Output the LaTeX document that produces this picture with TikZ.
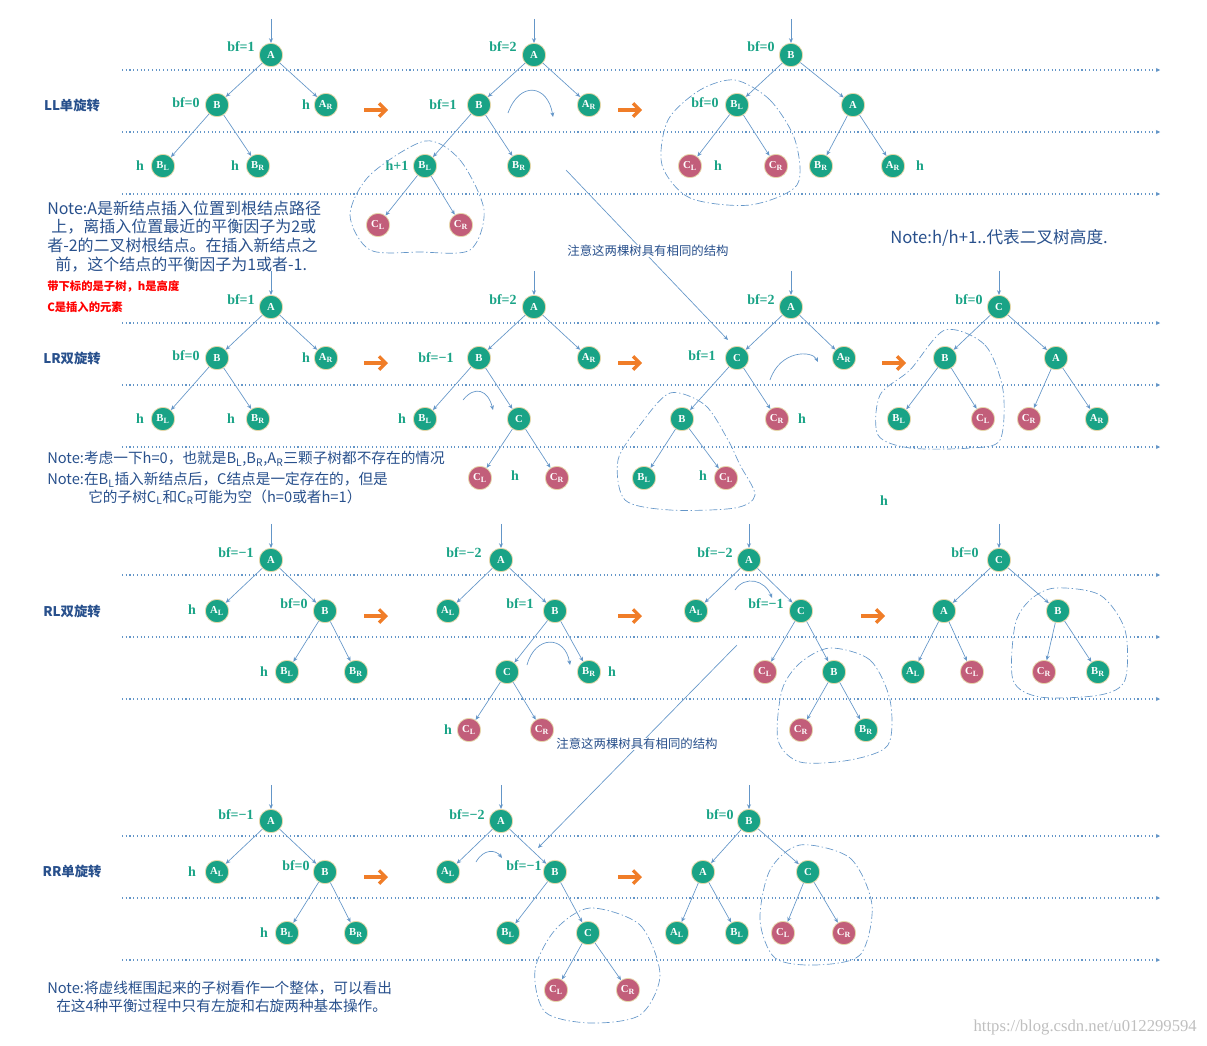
\documentclass[tikz,border=0pt]{standalone}
\usepackage{fontspec}
\setmainfont{Liberation Serif}
\newfontfamily\cjk{Noto Sans CJK SC}
\usetikzlibrary{arrows.meta}
\definecolor{tg}{RGB}{25,163,134}
\definecolor{tp}{RGB}{194,94,122}
\definecolor{ln}{RGB}{100,150,200}
\definecolor{nb}{RGB}{40,80,140}
\definecolor{og}{RGB}{240,125,40}
\tikzset{
 tn/.style={circle,fill=tg,draw={rgb,255:red,230;green,215;blue,170},line width=0.6pt,minimum size=17.5pt,inner sep=0pt,text=white,font=\bfseries\fontsize{8}{8}\selectfont},
 pk/.style={tn,fill=tp},
 ed/.style={ln,line width=0.5pt,-{Stealth[length=3.5pt,width=3pt]}},
 lb/.style={text=tg,font=\bfseries\fontsize{10.5}{10.5}\selectfont,inner sep=0pt},
 row/.style={ln,line width=0.8pt,dotted,-{Stealth[length=3pt,width=3pt]}},
 lp/.style={ln,line width=0.5pt,dash pattern=on 6pt off 2pt on 1pt off 2pt},
 oa/.style={og,line width=2.5pt,-{Straight Barb[length=5pt,width=10pt]}},
 sec/.style={text=nb,font=\bfseries\cjk\fontsize{10}{10}\selectfont},
 nt/.style={text=nb,font=\cjk\fontsize{11}{12}\selectfont,anchor=west,inner sep=0pt},
 ntb/.style={nt,font=\cjk\fontsize{12}{12}\selectfont},
 rd/.style={text=red,font=\bfseries\cjk\fontsize{8.5}{8.5}\selectfont,anchor=west,inner sep=0pt},
 sm/.style={text=nb,font=\cjk\fontsize{9.3}{9.3}\selectfont,inner sep=0pt},
}
\newcommand\TN[5]{\node[#1] (#2) at (#3,#4) {#5};}
\newcommand\E[2]{\draw[ed] (#1) -- (#2);}
\newcommand\ROOT[1]{\coordinate (#1top) at ([yshift=18pt]#1.north); \draw[ed] (#1top) -- (#1);}
\newcommand\SL{\textsubscript{L}}
\newcommand\SR{\textsubscript{R}}
\begin{document}
\begin{tikzpicture}[x=0.75pt,y=-0.75pt]
\useasboundingbox (0,0) rectangle (1207,1046);
% rows
\foreach \y in {70,132,194,323,385,447,575,637,699,836,898,960}{
 \coordinate (rs\y) at (122,\y); \coordinate (re\y) at (1160,\y);
 \draw[row] (rs\y) -- (re\y);}
% section labels
\node[sec] (L1) at (72,105) {LL单旋转};
\node[sec] (L2) at (72,358) {LR双旋转};
\node[sec] (L3) at (72,611) {RL双旋转};
\node[sec] (L4) at (72,871) {RR单旋转};
% orange arrows
\foreach \x/\y [count=\i] in {375/110,629/110,375/363,629/363,893/363,375/616,629/616,872/616,375/877,629/877}{
 \coordinate (oa\i s) at (\x-11,\y); \coordinate (oa\i e) at (\x+13,\y);
 \draw[oa] (oa\i s) -- (oa\i e);}
% ===== Section 1
\TN{tn}{a1A}{271}{55}{A}\TN{tn}{a1B}{217}{105}{B}\TN{tn}{a1AR}{326}{105}{A\SR}
\TN{tn}{a1BL}{163}{166}{B\SL}\TN{tn}{a1BR}{258}{166}{B\SR}
\E{a1A}{a1B}\E{a1A}{a1AR}\E{a1B}{a1BL}\E{a1B}{a1BR}\ROOT{a1A}
\node[lb] at (241,47) {bf=1};\node[lb] at (186,103) {bf=0};\node[lb] at (306,105) {h};
\node[lb] at (140,166) {h};\node[lb] at (235,166) {h};
\TN{tn}{a2A}{534}{55}{A}\TN{tn}{a2B}{479}{105}{B}\TN{tn}{a2AR}{589}{105}{A\SR}
\TN{tn}{a2BL}{425}{166}{B\SL}\TN{tn}{a2BR}{519}{166}{B\SR}
\TN{pk}{a2CL}{378}{225}{C\SL}\TN{pk}{a2CR}{461}{225}{C\SR}
\E{a2A}{a2B}\E{a2A}{a2AR}\E{a2B}{a2BL}\E{a2B}{a2BR}\E{a2BL}{a2CL}\E{a2BL}{a2CR}\ROOT{a2A}
\node[lb] at (503,47) {bf=2};\node[lb] at (443,105) {bf=1};\node[lb] at (397,166) {h+1};
\draw[lp] plot[smooth cycle] coordinates {(425,141)(460,160)(484,210)(470,250)(420,252)(370,250)(350,215)(370,175)};
\draw[ed] (508,113) .. controls (520,80) and (548,85) .. (553,117);
\TN{tn}{a3B}{791}{55}{B}\TN{tn}{a3BL}{737}{105}{B\SL}\TN{tn}{a3A}{853}{105}{A}
\TN{pk}{a3CL}{690}{166}{C\SL}\TN{pk}{a3CR}{776}{166}{C\SR}\TN{tn}{a3BR}{821}{166}{B\SR}\TN{tn}{a3AR}{893}{166}{A\SR}
\E{a3B}{a3BL}\E{a3B}{a3A}\E{a3BL}{a3CL}\E{a3BL}{a3CR}\E{a3A}{a3BR}\E{a3A}{a3AR}\ROOT{a3B}
\node[lb] at (761,47) {bf=0};\node[lb] at (705,103) {bf=0};\node[lb] at (718,166) {h};\node[lb] at (920,166) {h};
\draw[lp] plot[smooth cycle] coordinates {(735,80)(770,100)(795,140)(797,185)(750,205)(690,198)(662,165)(668,120)(700,90)};
% notes
\node[ntb] (n1) at (47,208) {Note:A是新结点插入位置到根结点路径};
\node[ntb] (n2) at (51,227) {上，离插入位置最近的平衡因子为2或};
\node[ntb] (n3) at (47,245) {者-2的二叉树根结点。在插入新结点之};
\node[ntb] (n4) at (55,265) {前，这个结点的平衡因子为1或者-1.};
\node[rd] (r1) at (47,286) {带下标的是子树，h是高度};
\node[rd] (r2) at (47,307) {C是插入的元素};
\node[nt,font=\cjk\fontsize{12.5}{12.5}\selectfont] (n5) at (890,238) {Note:h/h+1..代表二叉树高度.};
\coordinate (x1s) at (566,170); \coordinate (x1e) at (728,340);
\draw[ed] (x1s) -- (x1e);
\node[sm,fill=white] (t1) at (648,251) {注意这两棵树具有相同的结构};
% ===== Section 2
\TN{tn}{b1A}{271}{307}{A}\TN{tn}{b1B}{217}{358}{B}\TN{tn}{b1AR}{326}{358}{A\SR}
\TN{tn}{b1BL}{163}{419}{B\SL}\TN{tn}{b1BR}{258}{419}{B\SR}
\E{b1A}{b1B}\E{b1A}{b1AR}\E{b1B}{b1BL}\E{b1B}{b1BR}\ROOT{b1A}
\node[lb] at (241,300) {bf=1};\node[lb] at (186,356) {bf=0};\node[lb] at (306,358) {h};
\node[lb] at (140,419) {h};\node[lb] at (231,419) {h};
\TN{tn}{b2A}{534}{307}{A}\TN{tn}{b2B}{479}{358}{B}\TN{tn}{b2AR}{589}{358}{A\SR}
\TN{tn}{b2BL}{425}{419}{B\SL}\TN{tn}{b2C}{519}{419}{C}
\TN{pk}{b2CL}{480}{478}{C\SL}\TN{pk}{b2CR}{557}{478}{C\SR}
\E{b2A}{b2B}\E{b2A}{b2AR}\E{b2B}{b2BL}\E{b2B}{b2C}\E{b2C}{b2CL}\E{b2C}{b2CR}\ROOT{b2A}
\node[lb] at (503,300) {bf=2};\node[lb] at (436,358) {bf=−1};\node[lb] at (402,419) {h};\node[lb] at (515,476) {h};
\draw[ed] (463,400) .. controls (475,385) and (488,390) .. (493,410);
\TN{tn}{b3A}{791}{307}{A}\TN{tn}{b3C}{737}{358}{C}\TN{tn}{b3AR}{844}{358}{A\SR}
\TN{tn}{b3B}{682}{419}{B}\TN{pk}{b3CR}{777}{419}{C\SR}
\TN{tn}{b3BL}{644}{478}{B\SL}\TN{pk}{b3CL}{726}{478}{C\SL}
\E{b3A}{b3C}\E{b3A}{b3AR}\E{b3C}{b3B}\E{b3C}{b3CR}\E{b3B}{b3BL}\E{b3B}{b3CL}\ROOT{b3A}
\node[lb] at (761,300) {bf=2};\node[lb] at (702,356) {bf=1};\node[lb] at (802,419) {h};\node[lb] at (703,476) {h};
\draw[ed] (770,380) .. controls (780,350) and (812,350) .. (818,362);
\draw[lp] plot[smooth cycle] coordinates {(670,393)(705,405)(728,440)(740,465)(755,495)(735,508)(670,510)(625,500)(618,460)(640,425)};
\TN{tn}{b4C}{999}{307}{C}\TN{tn}{b4B}{945}{358}{B}\TN{tn}{b4A}{1056}{358}{A}
\TN{tn}{b4BL}{899}{419}{B\SL}\TN{pk}{b4CL}{983}{419}{C\SL}\TN{pk}{b4CR}{1029}{419}{C\SR}\TN{tn}{b4AR}{1097}{419}{A\SR}
\E{b4C}{b4B}\E{b4C}{b4A}\E{b4B}{b4BL}\E{b4B}{b4CL}\E{b4A}{b4CR}\E{b4A}{b4AR}\ROOT{b4C}
\node[lb] at (969,300) {bf=0};\node[lb] at (884,501) {h};
\draw[lp] plot[smooth cycle] coordinates {(945,330)(985,345)(1003,390)(1000,440)(970,448)(910,448)(878,435)(880,395)(910,370)};
\node[nt] (n6) at (47,459) {Note:考虑一下h=0，也就是B\SL{},B\SR{},A\SR{}三颗子树都不存在的情况};
\node[nt] (n7) at (47,480) {Note:在B\SL{}插入新结点后，C结点是一定存在的，但是};
\node[nt] (n8) at (88,497) {它的子树C\SL{}和C\SR{}可能为空（h=0或者h=1）};
% ===== Section 3
\TN{tn}{c1A}{271}{560}{A}\TN{tn}{c1AL}{217}{611}{A\SL}\TN{tn}{c1B}{325}{611}{B}
\TN{tn}{c1BL}{287}{672}{B\SL}\TN{tn}{c1BR}{356}{672}{B\SR}
\E{c1A}{c1AL}\E{c1A}{c1B}\E{c1B}{c1BL}\E{c1B}{c1BR}\ROOT{c1A}
\node[lb] at (236,553) {bf=−1};\node[lb] at (192,610) {h};\node[lb] at (294,604) {bf=0};\node[lb] at (264,672) {h};
\TN{tn}{c2A}{501}{560}{A}\TN{tn}{c2AL}{448}{611}{A\SL}\TN{tn}{c2B}{555}{611}{B}
\TN{tn}{c2C}{507}{672}{C}\TN{tn}{c2BR}{589}{672}{B\SR}
\TN{pk}{c2CL}{469}{730}{C\SL}\TN{pk}{c2CR}{542}{730}{C\SR}
\E{c2A}{c2AL}\E{c2A}{c2B}\E{c2B}{c2C}\E{c2B}{c2BR}\E{c2C}{c2CL}\E{c2C}{c2CR}\ROOT{c2A}
\node[lb] at (464,553) {bf=−2};\node[lb] at (520,604) {bf=1};\node[lb] at (612,672) {h};\node[lb] at (448,730) {h};
\draw[ed] (527,665) .. controls (535,635) and (565,635) .. (570,665);
\TN{tn}{c3A}{749}{560}{A}\TN{tn}{c3AL}{696}{611}{A\SL}\TN{tn}{c3C}{801}{611}{C}
\TN{pk}{c3CL}{765}{672}{C\SL}\TN{tn}{c3B}{834}{672}{B}
\TN{pk}{c3CR}{801}{730}{C\SR}\TN{tn}{c3BR}{866}{730}{B\SR}
\E{c3A}{c3AL}\E{c3A}{c3C}\E{c3C}{c3CL}\E{c3C}{c3B}\E{c3B}{c3CR}\E{c3B}{c3BR}\ROOT{c3A}
\node[lb] at (715,553) {bf=−2};\node[lb] at (766,604) {bf=−1};
\draw[ed] (735,590) .. controls (745,575) and (765,580) .. (772,598);
\draw[lp] plot[smooth cycle] coordinates {(830,648)(870,660)(890,700)(888,745)(850,760)(800,762)(778,740)(782,690)(800,663)};
\TN{tn}{c4C}{999}{560}{C}\TN{tn}{c4A}{944}{611}{A}\TN{tn}{c4B}{1058}{611}{B}
\TN{tn}{c4AL}{913}{672}{A\SL}\TN{pk}{c4CL}{972}{672}{C\SL}\TN{pk}{c4CR}{1044}{672}{C\SR}\TN{tn}{c4BR}{1098}{672}{B\SR}
\E{c4C}{c4A}\E{c4C}{c4B}\E{c4A}{c4AL}\E{c4A}{c4CL}\E{c4B}{c4CR}\E{c4B}{c4BR}\ROOT{c4C}
\node[lb] at (965,553) {bf=0};
\draw[lp] plot[smooth cycle] coordinates {(1055,588)(1100,595)(1125,630)(1125,680)(1100,695)(1040,697)(1013,680)(1015,625)(1030,600)};
\coordinate (x2s) at (737,645); \coordinate (x2e) at (538,848);
\draw[ed] (x2s) -- (x2e);
\node[sm,fill=white] (t2) at (637,744) {注意这两棵树具有相同的结构};
% ===== Section 4
\TN{tn}{d1A}{271}{821}{A}\TN{tn}{d1AL}{217}{872}{A\SL}\TN{tn}{d1B}{325}{872}{B}
\TN{tn}{d1BL}{287}{933}{B\SL}\TN{tn}{d1BR}{356}{933}{B\SR}
\E{d1A}{d1AL}\E{d1A}{d1B}\E{d1B}{d1BL}\E{d1B}{d1BR}\ROOT{d1A}
\node[lb] at (236,815) {bf=−1};\node[lb] at (192,872) {h};\node[lb] at (296,866) {bf=0};\node[lb] at (264,933) {h};
\TN{tn}{d2A}{501}{821}{A}\TN{tn}{d2AL}{448}{872}{A\SL}\TN{tn}{d2B}{555}{872}{B}
\TN{tn}{d2BL}{508}{933}{B\SL}\TN{tn}{d2C}{588}{933}{C}
\TN{pk}{d2CL}{556}{990}{C\SL}\TN{pk}{d2CR}{628}{990}{C\SR}
\E{d2A}{d2AL}\E{d2A}{d2B}\E{d2B}{d2BL}\E{d2B}{d2C}\E{d2C}{d2CL}\E{d2C}{d2CR}\ROOT{d2A}
\node[lb] at (467,815) {bf=−2};\node[lb] at (524,866) {bf=−1};
\draw[ed] (476,862) .. controls (484,848) and (496,850) .. (502,858);
\draw[lp] plot[smooth cycle] coordinates {(590,908)(640,925)(660,975)(640,1015)(590,1023)(545,1012)(535,970)(555,930)};
\TN{tn}{d3B}{749}{821}{B}\TN{tn}{d3A}{703}{872}{A}\TN{tn}{d3C}{808}{872}{C}
\TN{tn}{d3AL}{677}{933}{A\SL}\TN{tn}{d3BL}{737}{933}{B\SL}\TN{pk}{d3CL}{783}{933}{C\SL}\TN{pk}{d3CR}{844}{933}{C\SR}
\E{d3B}{d3A}\E{d3B}{d3C}\E{d3A}{d3AL}\E{d3A}{d3BL}\E{d3C}{d3CL}\E{d3C}{d3CR}\ROOT{d3B}
\node[lb] at (720,815) {bf=0};
\draw[lp] plot[smooth cycle] coordinates {(800,845)(850,858)(872,905)(860,955)(815,965)(775,958)(760,920)(770,870)};
\node[nt] (n9) at (47,988) {Note:将虚线框围起来的子树看作一个整体，可以看出};
\node[nt] (n10) at (56,1006) {在这4种平衡过程中只有左旋和右旋两种基本操作。};
\node[text=black!25,font=\fontsize{12.5}{12.5}\selectfont,anchor=east,inner sep=0pt] (wm) at (1197,1028) {https://blog.csdn.net/u012299594};
\end{tikzpicture}
\end{document}
